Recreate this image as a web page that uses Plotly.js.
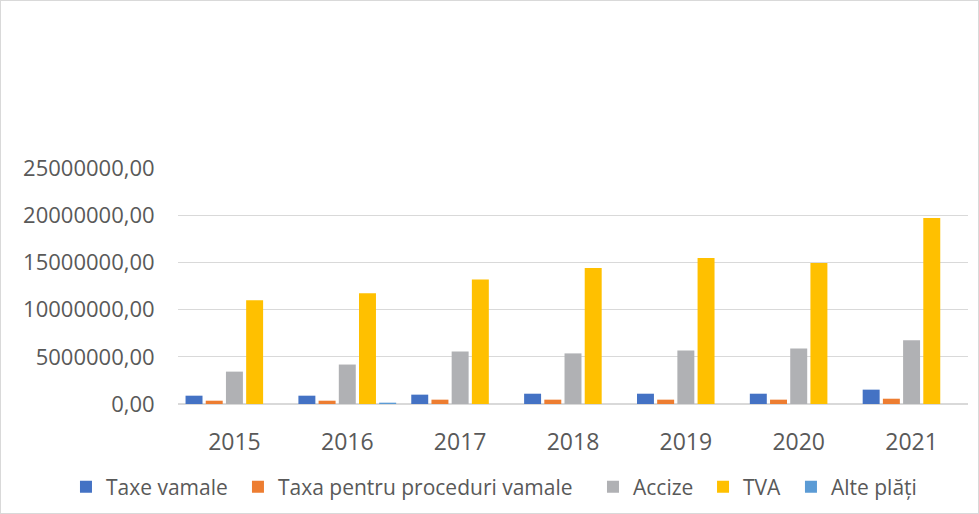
<!DOCTYPE html>
<html>
<head>
<meta charset="utf-8">
<script src="https://cdn.plot.ly/plotly-3.0.1.min.js"></script>
<style>
  html, body { margin: 0; padding: 0; background: #fff; }
  #wrap { position: relative; width: 979px; height: 514px; }
  #chart { width: 979px; height: 514px; }
  #frame { position: absolute; left: 0; top: 0; width: 979px; height: 514px; box-sizing: border-box; border: 1px solid #d9d9d9; pointer-events: none; }
</style>
</head>
<body>
<div id="wrap"><div id="chart"></div><div id="frame"></div></div>
<script>
const years = ["2015", "2016", "2017", "2018", "2019", "2020", "2021"];
const taxeVamale = [880000, 880000, 990000, 1090000, 1090000, 1090000, 1520000];
const taxaProceduri = [350000, 350000, 460000, 460000, 460000, 460000, 560000];
const accize = [3430000, 4180000, 5570000, 5360000, 5670000, 5880000, 6740000];
const tva = [11000000, 11740000, 13200000, 14400000, 15470000, 14940000, 19700000];
const altePlati = [0, 140000, 0, 0, 0, 0, 0];
const seriesNames = ["Taxe vamale", "Taxa pentru proceduri vamale", "Accize", "TVA", "Alte plăți"];
const seriesColors = ["#4472c4", "#ed7d31", "#b0b1b4", "#ffc000", "#5b9bd5"];
const yTickVals = [0, 5000000, 10000000, 15000000, 20000000, 25000000];
const yTickText = ["0,00", "5000000,00", "10000000,00", "15000000,00", "20000000,00", "25000000,00"];

// horizontal placement of each legend entry (paper fraction), one legend per series
const legendX = [-0.1418, 0.0759, 0.5253, 0.6646, 0.7759];
const legendIds = ["legend", "legend2", "legend3", "legend4", "legend5"];

const seriesData = [taxeVamale, taxaProceduri, accize, tva, altePlati];
const traces = seriesData.map((vals, i) => ({
  type: "bar",
  name: seriesNames[i],
  x: years,
  y: vals,
  legend: legendIds[i],
  marker: { color: seriesColors[i] },
  hoverinfo: "skip"
}));

const font = { family: "Open Sans, Noto Sans, sans-serif", size: 21, color: "#595959" };

const layout = {
  width: 979,
  height: 514,
  paper_bgcolor: "#ffffff",
  plot_bgcolor: "#ffffff",
  margin: { l: 178, r: 11, t: 168, b: 110, pad: 0, autoexpand: false },
  barmode: "group",
  bargap: 0.105,
  bargroupgap: 0.16,
  font: font,
  showlegend: true,
  xaxis: {
    type: "category",
    showgrid: false,
    showline: false,
    zeroline: false,
    ticks: "outside",
    ticklen: 17,
    tickcolor: "rgba(0,0,0,0)",
    tickfont: Object.assign({}, font, { size: 23 })
  },
  yaxis: {
    range: [0, 25000000],
    tickmode: "array",
    tickvals: yTickVals,
    ticktext: yTickText,
    showgrid: true,
    gridcolor: "#d9d9d9",
    gridwidth: 1.3,
    zeroline: true,
    zerolinecolor: "#d9d9d9",
    zerolinewidth: 1.3,
    showline: false,
    ticks: "outside",
    ticklen: 18,
    tickcolor: "rgba(0,0,0,0)",
    tickfont: Object.assign({}, font, { size: 22 })
  }
};

legendIds.forEach((id, i) => {
  layout[id] = {
    orientation: "h",
    x: legendX[i],
    xanchor: "left",
    y: -0.352,
    yanchor: "middle",
    font: font,
    itemwidth: 30,
    bgcolor: "rgba(0,0,0,0)"
  };
});

Plotly.newPlot("chart", traces, layout, { displayModeBar: false, staticPlot: true });
</script>
</body>
</html>
